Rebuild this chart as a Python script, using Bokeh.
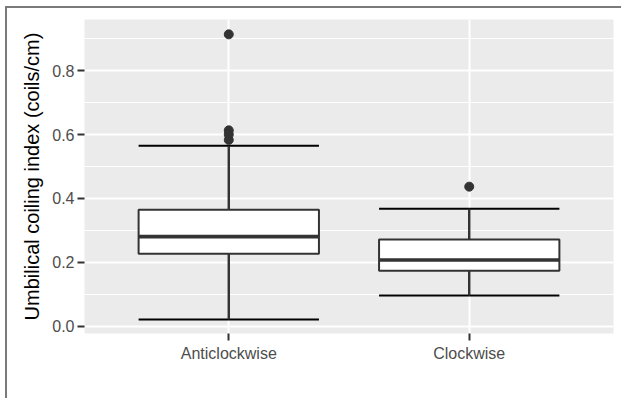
from bokeh.plotting import figure
from bokeh.models import ColumnDataSource, FactorRange, Range1d, FixedTicker, PrintfTickFormatter
from bokeh.transform import dodge
from bokeh.embed import file_html
from bokeh.resources import INLINE

# ---- data ----
categories = ["Anticlockwise", "Clockwise"]
lower = [0.022, 0.097]
q1 = [0.227, 0.174]
median = [0.281, 0.208]
q3 = [0.365, 0.272]
upper = [0.565, 0.368]
outlier_cat = ["Anticlockwise", "Anticlockwise", "Anticlockwise", "Anticlockwise", "Clockwise"]
outlier_val = [0.913, 0.613, 0.600, 0.583, 0.437]
y_major_ticks = [0.0, 0.2, 0.4, 0.6, 0.8]
y_minor_ticks = [0.1, 0.3, 0.5, 0.7, 0.9]
y_label = "Umbilical coiling index (coils/cm)"

src = ColumnDataSource(dict(cat=categories, lower=lower, q1=q1, median=median, q3=q3, upper=upper))
osrc = ColumnDataSource(dict(cat=outlier_cat, val=outlier_val))

FONT = "Liberation Sans"
BOXW = 0.75

p = figure(
    x_range=FactorRange(factors=categories, range_padding=0.1),
    y_range=Range1d(-0.0219, 0.9594),
    frame_width=529, frame_height=314,
    min_border_left=77, min_border_right=8, min_border_top=11, min_border_bottom=65,
    output_backend="svg", toolbar_location=None,
)
p.styles = {"border-top": "2px solid #7a7a7a", "border-left": "2px solid #7a7a7a",
            "margin-top": "6px", "margin-left": "5px"}

p.background_fill_color = "#EBEBEB"
p.border_fill_color = "white"
p.outline_line_color = None

# grid
p.xgrid.grid_line_color = "white"
p.xgrid.grid_line_width = 2
p.ygrid.grid_line_color = "white"
p.ygrid.grid_line_width = 2
p.ygrid.minor_grid_line_color = "white"
p.ygrid.minor_grid_line_width = 1
p.yaxis.ticker = FixedTicker(ticks=y_major_ticks, minor_ticks=y_minor_ticks)
p.yaxis.formatter = PrintfTickFormatter(format="%.1f")

for ax in (p.xaxis, p.yaxis):
    ax.axis_line_color = None
    ax.major_tick_line_color = "#333333"
    ax.major_tick_line_width = 2
    ax.major_tick_in = 0
    ax.major_tick_out = 7
    ax.minor_tick_line_color = None
    ax.major_label_text_font = FONT
    ax.major_label_text_font_size = "16px"
    ax.major_label_text_color = "#4D4D4D"

p.yaxis.major_label_standoff = 3
p.xaxis.major_label_standoff = 4
p.yaxis.axis_label = y_label
p.yaxis.axis_label_text_font = FONT
p.yaxis.axis_label_text_font_size = "20px"
p.yaxis.axis_label_text_font_style = "normal"
p.yaxis.axis_label_text_color = "black"
p.yaxis.axis_label_standoff = 6

# errorbar (caps + vertical)
p.segment(x0="cat", x1="cat", y0="lower", y1="upper", source=src, line_color="black", line_width=2)
p.segment(x0=dodge("cat", -BOXW / 2, range=p.x_range), x1=dodge("cat", BOXW / 2, range=p.x_range),
          y0="upper", y1="upper", source=src, line_color="black", line_width=2)
p.segment(x0=dodge("cat", -BOXW / 2, range=p.x_range), x1=dodge("cat", BOXW / 2, range=p.x_range),
          y0="lower", y1="lower", source=src, line_color="black", line_width=2)

# boxplot whiskers
p.segment(x0="cat", x1="cat", y0="q3", y1="upper", source=src, line_color="#333333", line_width=2)
p.segment(x0="cat", x1="cat", y0="lower", y1="q1", source=src, line_color="#333333", line_width=2)
# boxes
p.vbar(x="cat", width=BOXW, bottom="q1", top="q3", source=src,
       fill_color="white", line_color="#333333", line_width=2)
# median
p.segment(x0=dodge("cat", -BOXW / 2, range=p.x_range), x1=dodge("cat", BOXW / 2, range=p.x_range),
          y0="median", y1="median", source=src, line_color="#333333", line_width=3.6)
# outliers
p.scatter(x="cat", y="val", source=osrc, size=9, fill_color="#333333", line_color="#333333")

open("out.html", "w").write(file_html(p, INLINE))
